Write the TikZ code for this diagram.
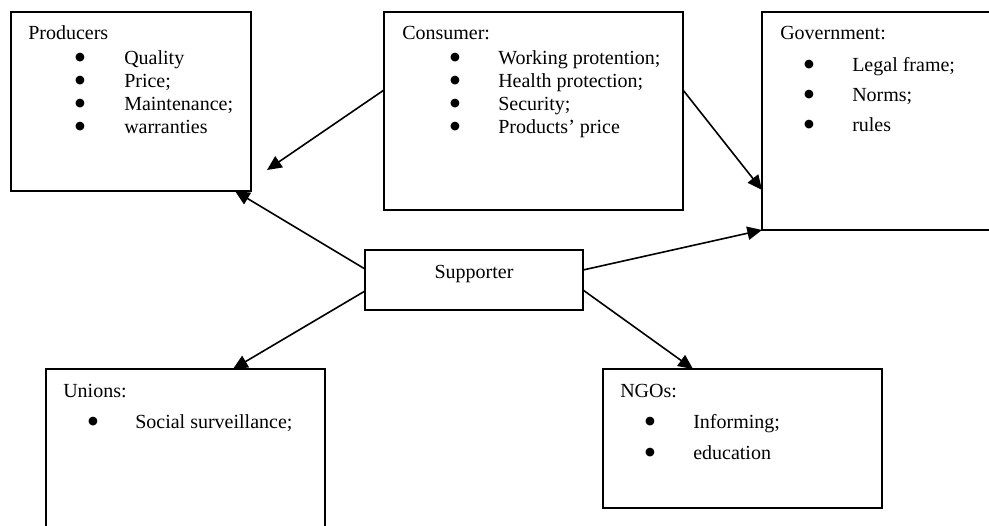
\documentclass[tikz,border=0pt]{standalone}
\usepackage{fontspec}
\setmainfont{Liberation Serif}
\newfontfamily\bulfont{DejaVu Sans}
\usetikzlibrary{arrows.meta,calc}
\begin{document}
\begin{tikzpicture}[x=0.75pt,y=-0.75pt,
  box/.style={draw,line width=1.4pt,inner sep=0pt,outer sep=0pt,anchor=north west},
  lbl/.style={anchor=base west,inner sep=0pt,font=\fontsize{15}{18}\selectfont},
  ctr/.style={anchor=base,inner sep=0pt,font=\fontsize{15}{18}\selectfont},
  bul/.style={anchor=center,inner sep=0pt,yshift=4.9pt,font=\bulfont\fontsize{8.5}{9}\selectfont},
  conn/.style={line width=1.2pt,-{Triangle[length=11pt,width=10pt]}}]
\useasboundingbox (0,0) rectangle (989,525);
\clip (0,0) rectangle (989,525);
% boxes
\node[box,minimum width=180pt,minimum height=134.25pt] (prod) at (11,12) {};
\node[box,minimum width=224.25pt,minimum height=148.5pt] (cons) at (384,12) {};
\node[box,minimum width=190pt,minimum height=163.5pt] (gov) at (762,12) {};
\node[box,minimum width=163.5pt,minimum height=45pt] (sup) at (365,250) {};
\node[box,minimum width=209.25pt,minimum height=140pt] (uni) at (46,369) {};
\node[box,minimum width=209.25pt,minimum height=104.25pt] (ngo) at (603,369) {};
% Producers
\node[lbl] (prodT) at (28,39) {Producers};
\node[bul] (pb1) at (80,64) {●};
\node[bul] (pb2) at (80,87) {●};
\node[bul] (pb3) at (80,110) {●};
\node[bul] (pb4) at (80,133) {●};
\node[lbl] (p1) at (124,64) {Quality};
\node[lbl] (p2) at (124,87) {Price;};
\node[lbl] (p3) at (124,110) {Maintenance;};
\node[lbl] (p4) at (124,133) {warranties};
% Consumer
\node[lbl] (consT) at (402,39) {Consumer:};
\node[bul] (cb1) at (455,64) {●};
\node[bul] (cb2) at (455,87) {●};
\node[bul] (cb3) at (455,110) {●};
\node[bul] (cb4) at (455,133) {●};
\node[lbl] (c1) at (498,64) {Working protention;};
\node[lbl] (c2) at (498,87) {Health protection;};
\node[lbl] (c3) at (498,110) {Security;};
\node[lbl] (c4) at (498,133) {Products’ price};
% Government
\node[lbl] (govT) at (780,39) {Government:};
\node[bul] (gb1) at (809,71) {●};
\node[bul] (gb2) at (809,101) {●};
\node[bul] (gb3) at (809,131) {●};
\node[lbl] (g1) at (852,71) {Legal frame;};
\node[lbl] (g2) at (852,101) {Norms;};
\node[lbl] (g3) at (852,131) {rules};
% Supporter
\node[ctr] (supT) at (474,278) {Supporter};
% Unions
\node[lbl] (uniT) at (63,397) {Unions:};
\node[bul] (ub1) at (93,428) {●};
\node[lbl] (u1) at (135,428) {Social surveillance;};
% NGOs
\node[lbl] (ngoT) at (620,397) {NGOs:};
\node[bul] (nb1) at (650,428) {●};
\node[bul] (nb2) at (650,459) {●};
\node[lbl] (n1) at (693,428) {Informing;};
\node[lbl] (n2) at (693,459) {education};
% connectors
\coordinate (prodTip) at (267,170);
\draw[conn] ($(cons.north west)+(0,78)$) -- (prodTip);
\draw[conn] ($(cons.north east)+(0,78)$) -- ($(gov.north west)+(0,178)$);
\draw[conn] ($(sup.north west)+(0,19)$) -- ($(prod.south west)+(224,0)$);
\draw[conn] ($(sup.north east)+(0,20)$) -- ($(gov.north west)+(0,218)$);
\draw[conn] ($(sup.north west)+(0,41)$) -- ($(uni.north west)+(187,0)$);
\draw[conn] ($(sup.north east)+(0,40)$) -- ($(ngo.north west)+(90,0)$);
\end{tikzpicture}
\end{document}
